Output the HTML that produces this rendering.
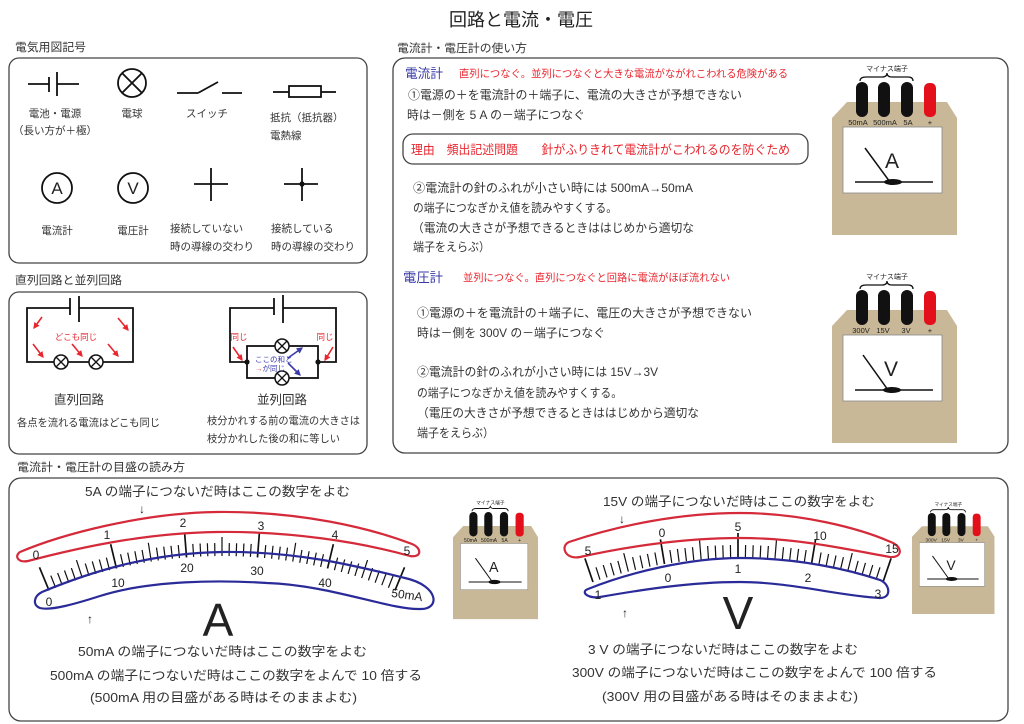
<!DOCTYPE html>
<html><head><meta charset="utf-8">
<style>
html,body{margin:0;padding:0;background:#fff}
svg{display:block}
text{font-family:"Liberation Sans","Noto Sans CJK JP",sans-serif;fill:#333}
.r{fill:#e8262e}
.b{fill:#3a3aa8}
.k{fill:#222}
</style></head>
<body>
<svg width="1024" height="724" viewBox="0 0 1024 724" xmlns="http://www.w3.org/2000/svg">
<defs>
<marker id="ar" viewBox="0 0 10 10" refX="8" refY="5" markerWidth="4" markerHeight="4" orient="auto"><path d="M0,0 L10,5 L0,10 z" fill="#e8262e"/></marker>
<marker id="ab" viewBox="0 0 10 10" refX="8" refY="5" markerWidth="4" markerHeight="4" orient="auto"><path d="M0,0 L10,5 L0,10 z" fill="#3a3aa8"/></marker>
<line id="A1" x1="222" y1="556" x2="222" y2="531" stroke-width="1.7"/>
<line id="A2" x1="222" y1="556" x2="222" y2="537"/>
<line id="A3" x1="222" y1="556" x2="222" y2="543"/>
<line id="V1" x1="738" y1="558" x2="738" y2="533" stroke-width="1.7"/>
<line id="V2" x1="738" y1="558" x2="738" y2="539"/>
<line id="V3" x1="738" y1="558" x2="738" y2="545"/>
</defs>

<!-- Title -->
<text x="521" y="26" font-size="18" text-anchor="middle" class="k">回路と電流・電圧</text>

<!-- Headers -->
<text x="15" y="51" font-size="11.5" textLength="71" lengthAdjust="spacingAndGlyphs">電気用図記号</text>
<text x="397" y="52" font-size="11.5" textLength="130" lengthAdjust="spacingAndGlyphs">電流計・電圧計の使い方</text>
<text x="15" y="284" font-size="11.5" textLength="107" lengthAdjust="spacingAndGlyphs">直列回路と並列回路</text>
<text x="17" y="471" font-size="11.5" textLength="168" lengthAdjust="spacingAndGlyphs">電流計・電圧計の目盛の読み方</text>

<!-- Panels -->
<g fill="none" stroke="#444" stroke-width="1.3">
<rect x="9" y="58" width="358" height="205" rx="10"/>
<rect x="9" y="292" width="358" height="162" rx="10"/>
<rect x="393" y="58" width="615" height="395" rx="12"/>
<rect x="9" y="478" width="999" height="243" rx="12"/>
<rect x="403" y="134" width="405" height="30" rx="10"/>
</g>

<!-- Panel 1 symbols -->
<g stroke="#111" stroke-width="1.8" fill="none">
<line x1="28" y1="84" x2="49" y2="84"/><line x1="49" y1="77" x2="49" y2="92"/>
<line x1="57" y1="72" x2="57" y2="96"/><line x1="57" y1="84" x2="79" y2="84"/>
<circle cx="132" cy="83" r="14"/>
<line x1="122.1" y1="73.1" x2="141.9" y2="92.9"/><line x1="141.9" y1="73.1" x2="122.1" y2="92.9"/>
<line x1="177" y1="93" x2="198" y2="93"/><line x1="198" y1="93" x2="218" y2="82"/><line x1="222" y1="93" x2="242" y2="93"/>
<line x1="273" y1="92" x2="289" y2="92"/><rect x="289" y="86" width="32" height="11"/><line x1="321" y1="92" x2="336" y2="92"/>
<circle cx="57" cy="188" r="15"/>
<circle cx="133" cy="188" r="15"/>
<line x1="211" y1="168" x2="211" y2="201"/><line x1="194" y1="184" x2="228" y2="184"/>
<line x1="302" y1="168" x2="302" y2="201"/><line x1="284" y1="184" x2="318" y2="184"/>
</g>
<circle cx="302" cy="184" r="2.6" fill="#111"/>
<text x="57" y="194" font-size="17" text-anchor="middle" class="k">A</text>
<text x="133" y="194" font-size="17" text-anchor="middle" class="k">V</text>
<g font-size="10.5">
<text x="55" y="117" text-anchor="middle">電池・電源</text>
<text x="55" y="134" text-anchor="middle">（長い方が＋極）</text>
<text x="132" y="117" text-anchor="middle">電球</text>
<text x="207" y="117" text-anchor="middle">スイッチ</text>
<text x="270" y="121">抵抗（抵抗器）</text>
<text x="270" y="139">電熱線</text>
<text x="57" y="234" text-anchor="middle">電流計</text>
<text x="133" y="234" text-anchor="middle">電圧計</text>
<text x="170" y="232">接続していない</text>
<text x="170" y="250">時の導線の交わり</text>
<text x="271" y="232">接続している</text>
<text x="271" y="250">時の導線の交わり</text>
</g>

<!-- Panel 2 circuits -->
<g stroke="#111" stroke-width="1.8" fill="none">
<path d="M70,308 H27 V362 H133 V308 H79"/>
<line x1="70" y1="298" x2="70" y2="315"/><line x1="79" y1="296" x2="79" y2="322"/>
<path d="M274,308 H230 V362 H247 M318,362 H336 V308 H283"/>
<rect x="247" y="346" width="71" height="32"/>
<line x1="274" y1="298" x2="274" y2="315"/><line x1="283" y1="295" x2="283" y2="323"/>
</g>
<g stroke="#111" stroke-width="1.5" fill="#fff">
<circle cx="61" cy="362" r="7"/><circle cx="96" cy="362" r="7"/>
<circle cx="282" cy="346" r="7"/><circle cx="282" cy="378" r="7"/>
</g>
<g stroke="#111" stroke-width="1.3">
<line x1="56" y1="357" x2="66" y2="367"/><line x1="66" y1="357" x2="56" y2="367"/>
<line x1="91" y1="357" x2="101" y2="367"/><line x1="101" y1="357" x2="91" y2="367"/>
<line x1="277" y1="341" x2="287" y2="351"/><line x1="287" y1="341" x2="277" y2="351"/>
<line x1="277" y1="373" x2="287" y2="383"/><line x1="287" y1="373" x2="277" y2="383"/>
</g>
<circle cx="247" cy="362" r="2.6" fill="#111"/><circle cx="318" cy="362" r="2.6" fill="#111"/>
<g stroke="#e8262e" stroke-width="1.6" marker-end="url(#ar)">
<line x1="42" y1="317" x2="34" y2="328"/>
<line x1="118" y1="318" x2="128" y2="330"/>
<line x1="33" y1="344" x2="43" y2="357"/>
<line x1="72" y1="344" x2="82" y2="356"/>
<line x1="108" y1="344" x2="118" y2="356"/>
<line x1="233" y1="347" x2="242" y2="360"/>
<line x1="333" y1="347" x2="325" y2="360"/>
</g>
<g stroke="#3a3aa8" stroke-width="1.6" marker-end="url(#ab)">
<line x1="288" y1="358" x2="302" y2="348"/>
<line x1="288" y1="363" x2="300" y2="375"/>
</g>
<text x="76" y="340" font-size="8.5" text-anchor="middle" class="r">どこも同じ</text>
<text x="239" y="340" font-size="8.5" text-anchor="middle" class="r">同じ</text>
<text x="325" y="340" font-size="8.5" text-anchor="middle" class="r">同じ</text>
<text x="255" y="362" font-size="7.5" class="b">ここの和と</text>
<text x="255" y="371" font-size="7.5" class="b"><tspan class="r">→</tspan>が同じ</text>
<text x="79" y="404" font-size="12.5" text-anchor="middle">直列回路</text>
<text x="17" y="426" font-size="10.5" textLength="143" lengthAdjust="spacingAndGlyphs">各点を流れる電流はどこも同じ</text>
<text x="282" y="404" font-size="12.5" text-anchor="middle">並列回路</text>
<text x="207" y="424" font-size="10.5" textLength="153" lengthAdjust="spacingAndGlyphs">枝分かれする前の電流の大きさは</text>
<text x="207" y="442" font-size="10.5" textLength="133" lengthAdjust="spacingAndGlyphs">枝分かれした後の和に等しい</text>

<!-- Panel 3 text -->
<text x="405" y="78" font-size="13" class="b" textLength="38" lengthAdjust="spacingAndGlyphs">電流計</text>
<text x="459" y="77" font-size="10.5" class="r" textLength="329" lengthAdjust="spacingAndGlyphs">直列につなぐ。並列につなぐと大きな電流がながれこわれる危険がある</text>
<g font-size="12">
<text x="408" y="99" textLength="334" lengthAdjust="spacingAndGlyphs">①電源の＋を電流計の＋端子に、電流の大きさが予想できない</text>
<text x="407" y="119" textLength="178" lengthAdjust="spacingAndGlyphs">時は－側を 5 A の－端子につなぐ</text>
<text x="411" y="154" font-size="12.5" class="r" textLength="379" lengthAdjust="spacingAndGlyphs">理由　頻出記述問題　　針がふりきれて電流計がこわれるのを防ぐため</text>
<text x="413" y="192" textLength="280" lengthAdjust="spacingAndGlyphs">②電流計の針のふれが小さい時には 500mA→50mA</text>
<text x="413" y="212" textLength="204" lengthAdjust="spacingAndGlyphs">の端子につなぎかえ値を読みやすくする。</text>
<text x="412" y="232" textLength="282" lengthAdjust="spacingAndGlyphs">（電流の大きさが予想できるときははじめから適切な</text>
<text x="413" y="251" textLength="77" lengthAdjust="spacingAndGlyphs">端子をえらぶ）</text>
</g>
<text x="403" y="282" font-size="13" class="b" textLength="40" lengthAdjust="spacingAndGlyphs">電圧計</text>
<text x="463" y="281" font-size="10.5" class="r" textLength="267" lengthAdjust="spacingAndGlyphs">並列につなぐ。直列につなぐと回路に電流がほぼ流れない</text>
<g font-size="12">
<text x="417" y="317" textLength="335" lengthAdjust="spacingAndGlyphs">①電源の＋を電流計の＋端子に、電圧の大きさが予想できない</text>
<text x="417" y="337" textLength="188" lengthAdjust="spacingAndGlyphs">時は－側を 300V の－端子につなぐ</text>
<text x="417" y="376" textLength="241" lengthAdjust="spacingAndGlyphs">②電流計の針のふれが小さい時には 15V→3V</text>
<text x="417" y="397" textLength="205" lengthAdjust="spacingAndGlyphs">の端子につなぎかえ値を読みやすくする。</text>
<text x="417" y="417" textLength="282" lengthAdjust="spacingAndGlyphs">（電圧の大きさが予想できるときははじめから適切な</text>
<text x="417" y="437" textLength="77" lengthAdjust="spacingAndGlyphs">端子をえらぶ）</text>
</g>

<!-- Big ammeter -->
<g transform="translate(832,82)">
<polygon points="15,20 115,20 125,36 125,153 0,153 0,36" fill="#c8b898"/>
<rect x="11" y="45" width="99" height="66" fill="#fff" stroke="#888" stroke-width="0.8"/>
<rect x="24" y="0" width="12" height="35" rx="6" fill="#111"/>
<rect x="46" y="0" width="12" height="35" rx="6" fill="#111"/>
<rect x="69" y="0" width="12" height="35" rx="6" fill="#111"/>
<rect x="92" y="1" width="12" height="34" rx="5" fill="#e3101c"/>
<g font-size="7.5" text-anchor="middle" class="k">
<text x="26" y="43" class="k">50mA</text><text x="53" y="43" class="k">500mA</text><text x="76" y="43" class="k">5A</text><text x="98" y="43" class="k">+</text>
<text x="55" y="-11" font-size="7" class="k">マイナス端子</text>
</g>
<path d="M28,-1 Q28,-5 34,-5 L50,-5 Q55,-5 55,-9 Q55,-5 60,-5 L76,-5 Q81,-5 81,-1" fill="none" stroke="#111" stroke-width="1.3"/>
<line x1="33" y1="66" x2="58" y2="100" stroke="#111" stroke-width="1.5"/>
<line x1="23" y1="100" x2="101" y2="100" stroke="#111" stroke-width="1.5"/>
<ellipse cx="61" cy="100" rx="9" ry="3" fill="#111"/>
<text x="60" y="86" font-size="21" text-anchor="middle" class="k">A</text>
</g>

<!-- Big voltmeter -->
<g transform="translate(832,290)">
<polygon points="15,20 115,20 125,36 125,153 0,153 0,36" fill="#c8b898"/>
<rect x="11" y="45" width="99" height="66" fill="#fff" stroke="#888" stroke-width="0.8"/>
<rect x="24" y="0" width="12" height="35" rx="6" fill="#111"/>
<rect x="46" y="0" width="12" height="35" rx="6" fill="#111"/>
<rect x="69" y="0" width="12" height="35" rx="6" fill="#111"/>
<rect x="92" y="1" width="12" height="34" rx="5" fill="#e3101c"/>
<g font-size="7.5" text-anchor="middle">
<text x="29" y="43" class="k">300V</text><text x="51" y="43" class="k">15V</text><text x="74" y="43" class="k">3V</text><text x="98" y="43" class="k">+</text>
<text x="55" y="-11" font-size="7" class="k">マイナス端子</text>
</g>
<path d="M28,-1 Q28,-5 34,-5 L50,-5 Q55,-5 55,-9 Q55,-5 60,-5 L76,-5 Q81,-5 81,-1" fill="none" stroke="#111" stroke-width="1.3"/>
<line x1="31" y1="65" x2="56" y2="100" stroke="#111" stroke-width="1.5"/>
<line x1="23" y1="100" x2="101" y2="100" stroke="#111" stroke-width="1.5"/>
<ellipse cx="60" cy="100" rx="9" ry="3" fill="#111"/>
<text x="59" y="86" font-size="21" text-anchor="middle" class="k">V</text>
</g>

<!-- Small ammeter -->
<g transform="translate(453,512) scale(0.68,0.7)">
<polygon points="15,20 115,20 125,36 125,153 0,153 0,36" fill="#c8b898"/>
<rect x="11" y="45" width="99" height="66" fill="#fff" stroke="#888" stroke-width="0.8"/>
<rect x="24" y="0" width="12" height="35" rx="6" fill="#111"/>
<rect x="46" y="0" width="12" height="35" rx="6" fill="#111"/>
<rect x="69" y="0" width="12" height="35" rx="6" fill="#111"/>
<rect x="92" y="1" width="12" height="34" rx="5" fill="#e3101c"/>
<g font-size="7.5" text-anchor="middle">
<text x="26" y="43" class="k">50mA</text><text x="53" y="43" class="k">500mA</text><text x="76" y="43" class="k">5A</text><text x="98" y="43" class="k">+</text>
<text x="55" y="-11" font-size="7" class="k">マイナス端子</text>
</g>
<path d="M28,-1 Q28,-5 34,-5 L50,-5 Q55,-5 55,-9 Q55,-5 60,-5 L76,-5 Q81,-5 81,-1" fill="none" stroke="#111" stroke-width="1.3"/>
<line x1="33" y1="66" x2="58" y2="100" stroke="#111" stroke-width="1.5"/>
<line x1="23" y1="100" x2="101" y2="100" stroke="#111" stroke-width="1.5"/>
<ellipse cx="61" cy="100" rx="9" ry="3" fill="#111"/>
<text x="60" y="86" font-size="21" text-anchor="middle" class="k">A</text>
</g>

<!-- Small voltmeter -->
<g transform="translate(912,513) scale(0.66)">
<polygon points="15,20 115,20 125,36 125,153 0,153 0,36" fill="#c8b898"/>
<rect x="11" y="45" width="99" height="66" fill="#fff" stroke="#888" stroke-width="0.8"/>
<rect x="24" y="0" width="12" height="35" rx="6" fill="#111"/>
<rect x="46" y="0" width="12" height="35" rx="6" fill="#111"/>
<rect x="69" y="0" width="12" height="35" rx="6" fill="#111"/>
<rect x="92" y="1" width="12" height="34" rx="5" fill="#e3101c"/>
<g font-size="7.5" text-anchor="middle">
<text x="29" y="43" class="k">300V</text><text x="51" y="43" class="k">15V</text><text x="74" y="43" class="k">3V</text><text x="98" y="43" class="k">+</text>
<text x="55" y="-11" font-size="7" class="k">マイナス端子</text>
</g>
<path d="M28,-1 Q28,-5 34,-5 L50,-5 Q55,-5 55,-9 Q55,-5 60,-5 L76,-5 Q81,-5 81,-1" fill="none" stroke="#111" stroke-width="1.3"/>
<line x1="31" y1="65" x2="56" y2="100" stroke="#111" stroke-width="1.5"/>
<line x1="23" y1="100" x2="101" y2="100" stroke="#111" stroke-width="1.5"/>
<ellipse cx="60" cy="100" rx="9" ry="3" fill="#111"/>
<text x="59" y="86" font-size="21" text-anchor="middle" class="k">V</text>
</g>

<!-- A scale ticks -->
<g stroke="#111" stroke-width="1.2">
<use href="#A1" transform="rotate(-22.5 222 1008)"/>
<use href="#A3" transform="rotate(-21.6 222 1008)"/>
<use href="#A3" transform="rotate(-20.7 222 1008)"/>
<use href="#A3" transform="rotate(-19.8 222 1008)"/>
<use href="#A3" transform="rotate(-18.9 222 1008)"/>
<use href="#A2" transform="rotate(-18 222 1008)"/>
<use href="#A3" transform="rotate(-17.1 222 1008)"/>
<use href="#A3" transform="rotate(-16.2 222 1008)"/>
<use href="#A3" transform="rotate(-15.3 222 1008)"/>
<use href="#A3" transform="rotate(-14.4 222 1008)"/>
<use href="#A1" transform="rotate(-13.5 222 1008)"/>
<use href="#A3" transform="rotate(-12.6 222 1008)"/>
<use href="#A3" transform="rotate(-11.7 222 1008)"/>
<use href="#A3" transform="rotate(-10.8 222 1008)"/>
<use href="#A3" transform="rotate(-9.9 222 1008)"/>
<use href="#A2" transform="rotate(-9 222 1008)"/>
<use href="#A3" transform="rotate(-8.1 222 1008)"/>
<use href="#A3" transform="rotate(-7.2 222 1008)"/>
<use href="#A3" transform="rotate(-6.3 222 1008)"/>
<use href="#A3" transform="rotate(-5.4 222 1008)"/>
<use href="#A1" transform="rotate(-4.5 222 1008)"/>
<use href="#A3" transform="rotate(-3.6 222 1008)"/>
<use href="#A3" transform="rotate(-2.7 222 1008)"/>
<use href="#A3" transform="rotate(-1.8 222 1008)"/>
<use href="#A3" transform="rotate(-0.9 222 1008)"/>
<use href="#A2" transform="rotate(0 222 1008)"/>
<use href="#A3" transform="rotate(0.9 222 1008)"/>
<use href="#A3" transform="rotate(1.8 222 1008)"/>
<use href="#A3" transform="rotate(2.7 222 1008)"/>
<use href="#A3" transform="rotate(3.6 222 1008)"/>
<use href="#A1" transform="rotate(4.5 222 1008)"/>
<use href="#A3" transform="rotate(5.4 222 1008)"/>
<use href="#A3" transform="rotate(6.3 222 1008)"/>
<use href="#A3" transform="rotate(7.2 222 1008)"/>
<use href="#A3" transform="rotate(8.1 222 1008)"/>
<use href="#A2" transform="rotate(9 222 1008)"/>
<use href="#A3" transform="rotate(9.9 222 1008)"/>
<use href="#A3" transform="rotate(10.8 222 1008)"/>
<use href="#A3" transform="rotate(11.7 222 1008)"/>
<use href="#A3" transform="rotate(12.6 222 1008)"/>
<use href="#A1" transform="rotate(13.5 222 1008)"/>
<use href="#A3" transform="rotate(14.4 222 1008)"/>
<use href="#A3" transform="rotate(15.3 222 1008)"/>
<use href="#A3" transform="rotate(16.2 222 1008)"/>
<use href="#A3" transform="rotate(17.1 222 1008)"/>
<use href="#A2" transform="rotate(18 222 1008)"/>
<use href="#A3" transform="rotate(18.9 222 1008)"/>
<use href="#A3" transform="rotate(19.8 222 1008)"/>
<use href="#A3" transform="rotate(20.7 222 1008)"/>
<use href="#A3" transform="rotate(21.6 222 1008)"/>
<use href="#A1" transform="rotate(22.5 222 1008)"/>
</g>

<!-- V scale ticks -->
<g stroke="#111" stroke-width="1.2">
<use href="#V1" transform="rotate(-18.8 738 1008)"/>
<use href="#V3" transform="rotate(-17.86 738 1008)"/>
<use href="#V3" transform="rotate(-16.92 738 1008)"/>
<use href="#V3" transform="rotate(-15.98 738 1008)"/>
<use href="#V3" transform="rotate(-15.04 738 1008)"/>
<use href="#V2" transform="rotate(-14.1 738 1008)"/>
<use href="#V3" transform="rotate(-13.16 738 1008)"/>
<use href="#V3" transform="rotate(-12.22 738 1008)"/>
<use href="#V3" transform="rotate(-11.28 738 1008)"/>
<use href="#V3" transform="rotate(-10.34 738 1008)"/>
<use href="#V1" transform="rotate(-9.4 738 1008)"/>
<use href="#V3" transform="rotate(-8.46 738 1008)"/>
<use href="#V3" transform="rotate(-7.52 738 1008)"/>
<use href="#V3" transform="rotate(-6.58 738 1008)"/>
<use href="#V3" transform="rotate(-5.64 738 1008)"/>
<use href="#V2" transform="rotate(-4.7 738 1008)"/>
<use href="#V3" transform="rotate(-3.76 738 1008)"/>
<use href="#V3" transform="rotate(-2.82 738 1008)"/>
<use href="#V3" transform="rotate(-1.88 738 1008)"/>
<use href="#V3" transform="rotate(-0.94 738 1008)"/>
<use href="#V1" transform="rotate(0 738 1008)"/>
<use href="#V3" transform="rotate(0.94 738 1008)"/>
<use href="#V3" transform="rotate(1.88 738 1008)"/>
<use href="#V3" transform="rotate(2.82 738 1008)"/>
<use href="#V3" transform="rotate(3.76 738 1008)"/>
<use href="#V2" transform="rotate(4.7 738 1008)"/>
<use href="#V3" transform="rotate(5.64 738 1008)"/>
<use href="#V3" transform="rotate(6.58 738 1008)"/>
<use href="#V3" transform="rotate(7.52 738 1008)"/>
<use href="#V3" transform="rotate(8.46 738 1008)"/>
<use href="#V1" transform="rotate(9.4 738 1008)"/>
<use href="#V3" transform="rotate(10.34 738 1008)"/>
<use href="#V3" transform="rotate(11.28 738 1008)"/>
<use href="#V3" transform="rotate(12.22 738 1008)"/>
<use href="#V3" transform="rotate(13.16 738 1008)"/>
<use href="#V2" transform="rotate(14.1 738 1008)"/>
<use href="#V3" transform="rotate(15.04 738 1008)"/>
<use href="#V3" transform="rotate(15.98 738 1008)"/>
<use href="#V3" transform="rotate(16.92 738 1008)"/>
<use href="#V3" transform="rotate(17.86 738 1008)"/>
<use href="#V1" transform="rotate(18.8 738 1008)"/>
</g>

<!-- Bands -->
<g fill="none" stroke-width="2.2">
<path stroke="#d42a3a" d="M20,552 C60,535 140,513 217,512 C300,511 370,528 412,544 C422,548 422,558 410,556 C360,542 290,531 217,532 C140,533 70,550 28,561 C18,563 14,556 20,552 Z"/>
<path stroke="#2a2a98" d="M42,592 C90,572 150,553 222,552 C300,551 360,567 405,578 C440,586 440,610 420,609 C390,610 330,585 267,583 C220,580 150,580 100,596 C75,604 50,611 40,608 C32,605 34,596 42,592 Z"/>
<path stroke="#d42a3a" d="M569,542 C620,525 680,513 740,513 C800,513 860,528 893,543 C903,548 902,558 890,557 C850,550 800,538 740,538 C680,538 620,548 580,557 C565,560 560,546 569,542 Z"/>
<path stroke="#2a2a98" d="M588,589 C630,572 690,558 740,558 C800,558 850,570 880,580 C890,584 892,598 880,598 C840,596 790,582 740,582 C690,582 640,590 600,597 C588,599 580,592 588,589 Z"/>
</g>

<!-- Scale labels A -->
<g font-size="12" text-anchor="middle">
<text x="36" y="559" class="k">0</text>
<text x="107" y="539" class="k">1</text>
<text x="183" y="527" class="k">2</text>
<text x="261" y="530" class="k">3</text>
<text x="335" y="539" class="k">4</text>
<text x="407" y="555" class="k">5</text>
<text x="49" y="606" class="k">0</text>
<text x="118" y="587" class="k">10</text>
<text x="187" y="572" class="k">20</text>
<text x="257" y="575" class="k">30</text>
<text x="325" y="587" class="k">40</text>
<text x="407" y="599" class="k" transform="rotate(8 407 595)">50mA</text>
<!-- V -->
<text x="588" y="555" class="k">5</text>
<text x="662" y="537" class="k">0</text>
<text x="738" y="531" class="k">5</text>
<text x="820" y="540" class="k">10</text>
<text x="892" y="553" class="k">15</text>
<text x="598" y="599" class="k">1</text>
<text x="668" y="582" class="k">0</text>
<text x="738" y="573" class="k">1</text>
<text x="808" y="582" class="k">2</text>
<text x="878" y="598" class="k">3</text>
</g>

<!-- Arrows & captions -->
<g font-size="12" text-anchor="middle">
<text x="142" y="513" class="k">↓</text>
<text x="622" y="523" class="k">↓</text>
<text x="90" y="623" class="k">↑</text>
<text x="625" y="617" class="k">↑</text>
</g>
<text x="85" y="496" font-size="13" textLength="265" lengthAdjust="spacingAndGlyphs">5A の端子につないだ時はここの数字をよむ</text>
<text x="603" y="506" font-size="13" textLength="272" lengthAdjust="spacingAndGlyphs">15V の端子につないだ時はここの数字をよむ</text>
<text x="218" y="636" font-size="46" text-anchor="middle" class="k">A</text>
<text x="738" y="629" font-size="46" text-anchor="middle" class="k">V</text>
<g font-size="13">
<text x="78" y="656" textLength="289" lengthAdjust="spacingAndGlyphs">50mA の端子につないだ時はここの数字をよむ</text>
<text x="50" y="680" textLength="372" lengthAdjust="spacingAndGlyphs">500mA の端子につないだ時はここの数字をよんで 10 倍する</text>
<text x="90" y="702" textLength="267" lengthAdjust="spacingAndGlyphs">(500mA 用の目盛がある時はそのままよむ)</text>
<text x="588" y="654" textLength="270" lengthAdjust="spacingAndGlyphs">3 V の端子につないだ時はここの数字をよむ</text>
<text x="572" y="677" textLength="365" lengthAdjust="spacingAndGlyphs">300V の端子につないだ時はここの数字をよんで 100 倍する</text>
<text x="602" y="701" textLength="256" lengthAdjust="spacingAndGlyphs">(300V 用の目盛がある時はそのままよむ)</text>
</g>
</svg>
</body></html>
